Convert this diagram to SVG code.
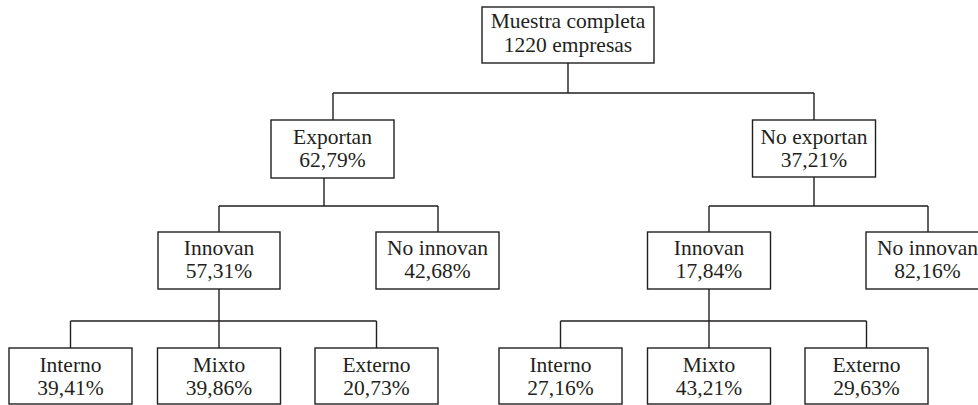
<svg xmlns="http://www.w3.org/2000/svg" width="978" height="405" viewBox="0 0 978 405">
<style>
rect{fill:#fff;stroke:#231f20;stroke-width:1.4}
text{font-family:'Liberation Serif','Times New Roman',Times,serif;font-size:21.5px;fill:#231f20;text-anchor:middle}
.c path{fill:none;stroke:#231f20;stroke-width:1.4}
</style>
<rect x="0" y="0" width="978" height="405" style="fill:#fff;stroke:none"/>
<g class="c" id="connectors">
<path d="M568 63V93M333 93H814M333 93V120M814 93V120"/>
<path d="M324 178V206M219 206H438M219 206V232M438 206V232"/>
<path d="M814 177V206M709 206H928M709 206V232M928 206V232"/>
<path d="M219 289V321M70.5 321H376.5M70.5 321V348M219 321V348M376.5 321V348"/>
<path d="M709 289V321M560.5 321H866.5M560.5 321V348M709 321V348M866.5 321V348"/>
</g>
<g id="root"><rect x="482" y="7" width="172" height="56"/><text x="568" y="28">Muestra completa</text><text x="568" y="52">1220 empresas</text></g>
<g id="exportan"><rect x="271" y="120" width="123" height="58"/><text x="332.5" y="144">Exportan</text><text x="332.5" y="167">62,79%</text></g>
<g id="noexportan"><rect x="752.5" y="120" width="123" height="57"/><text x="814" y="144">No exportan</text><text x="814" y="167">37,21%</text></g>
<g id="innovan1"><rect x="158" y="232" width="122" height="57"/><text x="219" y="255">Innovan</text><text x="219" y="278">57,31%</text></g>
<g id="noinnovan1"><rect x="376" y="232" width="123" height="57"/><text x="437.5" y="255">No innovan</text><text x="437.5" y="278">42,68%</text></g>
<g id="innovan2"><rect x="647.5" y="232" width="123" height="57"/><text x="709" y="255">Innovan</text><text x="709" y="278">17,84%</text></g>
<g id="noinnovan2"><rect x="866" y="232" width="123" height="57"/><text x="927.5" y="255">No innovan</text><text x="927.5" y="278">82,16%</text></g>
<g id="interno1"><rect x="9" y="348" width="123" height="56"/><text x="70.5" y="372">Interno</text><text x="70.5" y="395">39,41%</text></g>
<g id="mixto1"><rect x="157.5" y="348" width="123" height="56"/><text x="219" y="372">Mixto</text><text x="219" y="395">39,86%</text></g>
<g id="externo1"><rect x="315" y="348" width="123" height="56"/><text x="376.5" y="372">Externo</text><text x="376.5" y="395">20,73%</text></g>
<g id="interno2"><rect x="499" y="348" width="123" height="56"/><text x="560.5" y="372">Interno</text><text x="560.5" y="395">27,16%</text></g>
<g id="mixto2"><rect x="647.5" y="348" width="123" height="56"/><text x="709" y="372">Mixto</text><text x="709" y="395">43,21%</text></g>
<g id="externo2"><rect x="805" y="348" width="123" height="56"/><text x="866.5" y="372">Externo</text><text x="866.5" y="395">29,63%</text></g>
</svg>
